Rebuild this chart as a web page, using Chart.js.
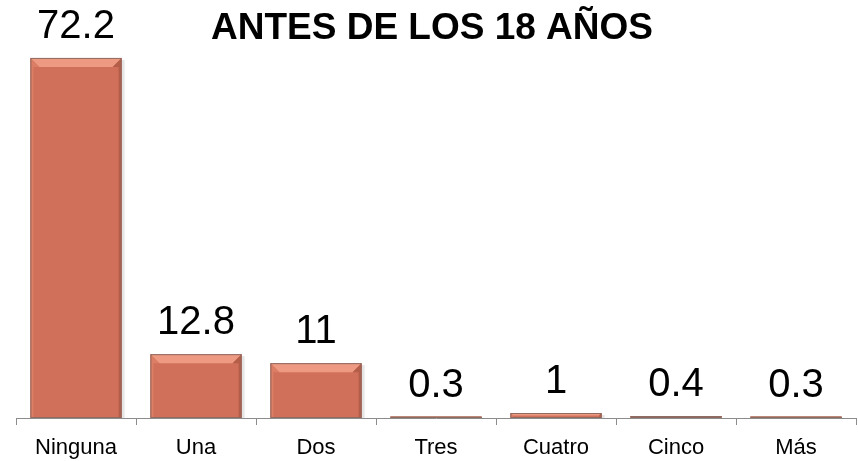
<!DOCTYPE html>
<html>
<head>
<meta charset="utf-8">
<script src="https://cdn.jsdelivr.net/npm/chart.js@4.4.1/dist/chart.umd.min.js"></script>
<style>
  html, body { margin: 0; background: #fff; }
  #wrap { width: 858px; height: 461px; }
</style>
</head>
<body>
<div id="wrap"><canvas id="chart"></canvas></div>
<script>
const categories = ['Ninguna', 'Una', 'Dos', 'Tres', 'Cuatro', 'Cinco', 'Más']
const values = [72.2, 12.8, 11, 0.3, 1, 0.4, 0.3]
const chartTitle = 'ANTES DE LOS 18 AÑOS'

const FONT = '"Liberation Sans", Arial, sans-serif'
const barFill = '#d0705a'

// bevelled bars, like the office "cool slant" look
const bevel = {
  id: 'bevel',
  afterDatasetsDraw(chart) {
    const ctx = chart.ctx
    chart.getDatasetMeta(0).data.forEach((bar) => {
      const { x, y, base, width } = bar.getProps(['x', 'y', 'base', 'width'])
      const l = x - width / 2
      const r = x + width / 2
      const h = base - y
      const d = Math.min(9, h / 2)
      ctx.save()
      // soft shadow on the right
      ctx.fillStyle = 'rgba(0,0,0,0.10)'
      ctx.fillRect(r, y + 2, 3, h - 2)
      // top bevel
      ctx.fillStyle = '#ee9a82'
      ctx.beginPath()
      ctx.moveTo(l, y)
      ctx.lineTo(r, y)
      ctx.lineTo(r - d, y + d)
      ctx.lineTo(l + d, y + d)
      ctx.closePath()
      ctx.fill()
      // right edge, darker
      ctx.fillStyle = '#b45e4a'
      ctx.beginPath()
      ctx.moveTo(r, y)
      ctx.lineTo(r, base)
      ctx.lineTo(r - Math.min(3, d), base)
      ctx.lineTo(r - Math.min(3, d), y + d)
      ctx.lineTo(r - d, y + d)
      ctx.closePath()
      ctx.fill()
      // left edge, lighter
      ctx.fillStyle = '#dc7d65'
      ctx.beginPath()
      ctx.moveTo(l, y)
      ctx.lineTo(l + d, y + d)
      ctx.lineTo(l + Math.min(3, d), y + d)
      ctx.lineTo(l + Math.min(3, d), base)
      ctx.lineTo(l, base)
      ctx.closePath()
      ctx.fill()
      ctx.strokeStyle = '#8f6a60'
      ctx.lineWidth = 1
      ctx.strokeRect(l + 0.5, y + 0.5, width - 1, h - 1)
      ctx.restore()
    })
  },
}

const valueLabels = {
  id: 'valueLabels',
  afterDraw(chart) {
    const ctx = chart.ctx
    ctx.save()
    ctx.fillStyle = '#000'
    ctx.font = '40px ' + FONT
    ctx.textAlign = 'center'
    ctx.textBaseline = 'alphabetic'
    chart.getDatasetMeta(0).data.forEach((bar, i) => {
      ctx.fillText(String(values[i]), bar.x, bar.y - 20)
    })
    ctx.font = 'bold 37px ' + FONT
    ctx.fillText(chartTitle, 432, 39)
    ctx.restore()
  },
}

new Chart(document.getElementById('chart'), {
  type: 'bar',
  data: {
    labels: categories,
    datasets: [
      {
        data: values,
        backgroundColor: barFill,
        borderWidth: 0,
        barPercentage: 0.76,
        categoryPercentage: 1,
      },
    ],
  },
  options: {
    responsive: true,
    maintainAspectRatio: false,
    animation: false,
    layout: { padding: { top: 19, left: 16, right: 2, bottom: 0 } },
    plugins: { legend: { display: false }, tooltip: { enabled: false } },
    scales: {
      y: { display: false, min: 0, max: 80 },
      x: {
        afterFit: (scale) => { scale.height = 43 },
        grid: { drawOnChartArea: false, tickLength: 7, color: '#8c8c8c' },
        border: { color: '#8c8c8c', width: 1 },
        ticks: { color: '#000', font: { family: FONT, size: 22 }, padding: 10 },
      },
    },
  },
  plugins: [bevel, valueLabels],
})
</script>
</body>
</html>
